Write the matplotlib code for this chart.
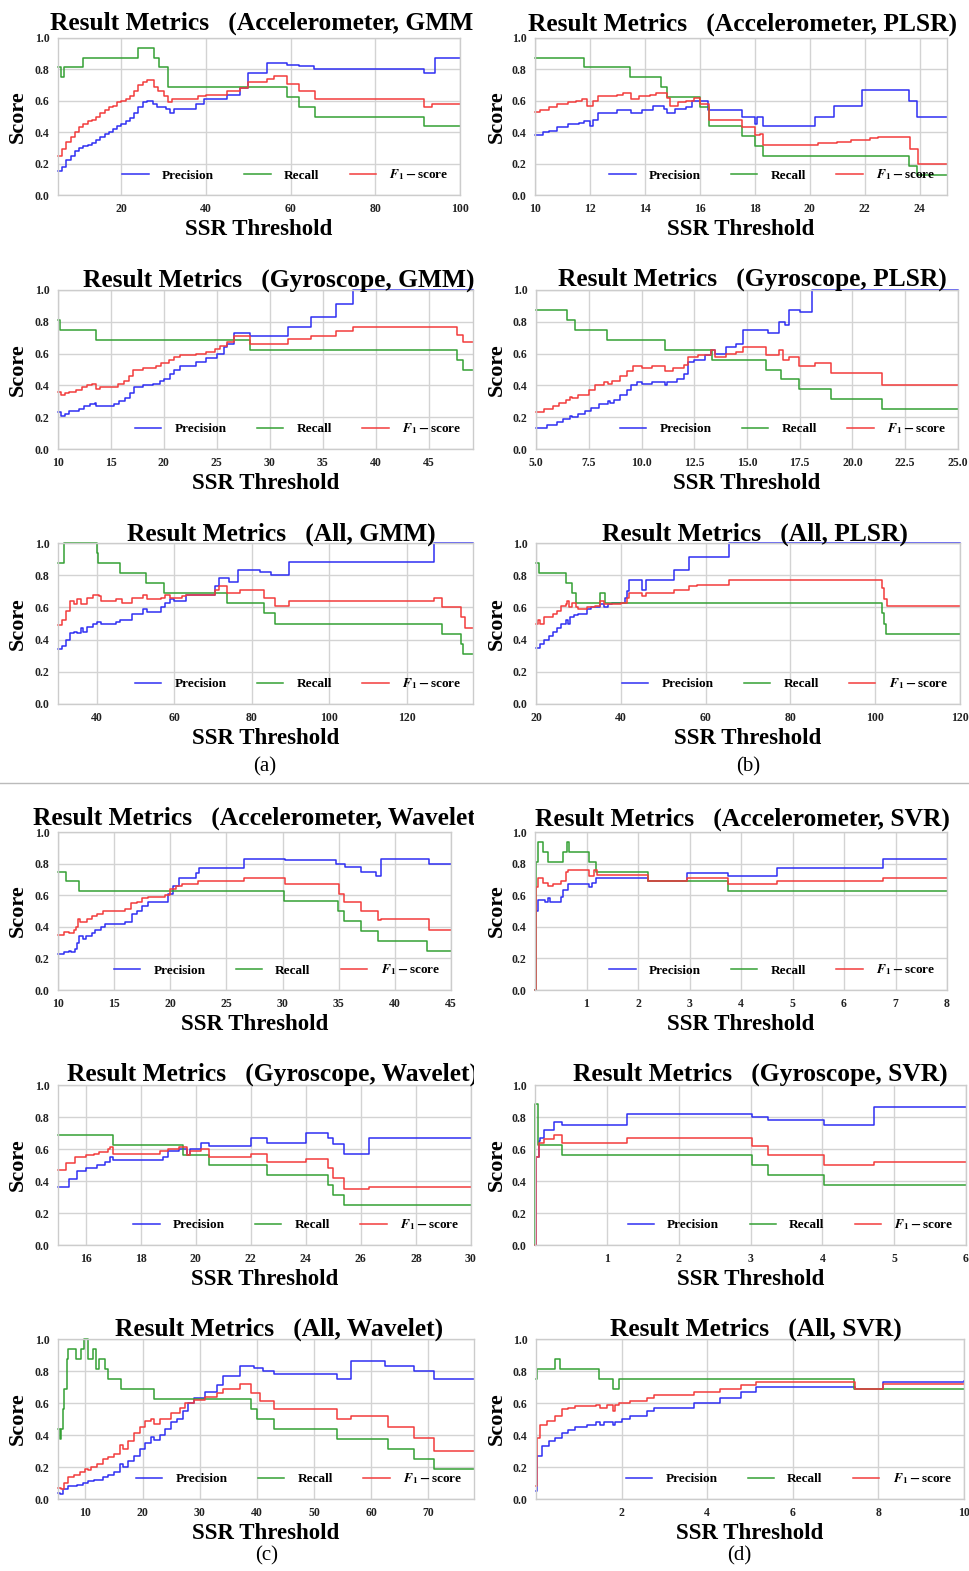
import matplotlib
matplotlib.use("Agg")
import matplotlib.pyplot as plt
from matplotlib.transforms import Bbox, TransformedBbox

plt.rcParams['font.family'] = ['Liberation Serif', 'DejaVu Serif']
plt.rcParams['font.weight'] = 'bold'
plt.rcParams['mathtext.fontset'] = 'stix'

# ---------------- data (step breakpoints) ----------------
# (a) Accelerometer, GMM
acc_gmm_px = [5, 6, 7, 8, 9, 10, 11, 12, 13, 14, 15, 16, 17, 18, 19, 20, 21, 22, 23, 24, 25, 26, 27.5, 28.5, 30.5, 31.5, 32.5, 37.5, 39.5, 45, 48, 50, 54.5, 59, 62, 65.5, 91.5, 94, 100]
acc_gmm_p = [0.15, 0.18, 0.22, 0.25, 0.28, 0.30, 0.31, 0.32, 0.33, 0.35, 0.37, 0.39, 0.40, 0.42, 0.44, 0.45, 0.47, 0.49, 0.52, 0.56, 0.59, 0.60, 0.58, 0.56, 0.55, 0.52, 0.55, 0.58, 0.61, 0.64, 0.68, 0.78, 0.84, 0.83, 0.82, 0.80, 0.78, 0.87, 0.87]
acc_gmm_rx = [5, 5.8, 6.3, 11, 24, 27.7, 28.8, 30.9, 59, 62, 65.7, 91.5, 100]
acc_gmm_r = [0.8125, 0.75, 0.8125, 0.875, 0.9375, 0.875, 0.8125, 0.6875, 0.625, 0.5625, 0.5, 0.4375, 0.4375]
acc_gmm_fx = [5, 6, 7, 8, 9, 10, 11, 12, 13, 14, 15, 16, 17, 18, 19, 20, 21, 22, 23, 24, 25, 26, 27.7, 28.7, 30, 31, 32, 38, 40, 45, 48, 50, 54.5, 56, 59, 62, 65.7, 91.5, 93.5, 100]
acc_gmm_f = [0.25, 0.29, 0.34, 0.37, 0.40, 0.43, 0.45, 0.47, 0.48, 0.50, 0.52, 0.54, 0.56, 0.57, 0.59, 0.60, 0.61, 0.63, 0.66, 0.70, 0.72, 0.73, 0.69, 0.66, 0.63, 0.59, 0.61, 0.63, 0.64, 0.66, 0.68, 0.72, 0.74, 0.76, 0.71, 0.66, 0.61, 0.56, 0.58, 0.58]

# (b) Accelerometer, PLSR
acc_plsr_px = [10, 10.3, 10.5, 10.8, 11.2, 11.6, 11.8, 12.0, 12.1, 12.3, 13.0, 13.5, 13.9, 14.3, 14.7, 14.8, 15.1, 15.5, 15.7, 16.3, 17.55, 18.0, 18.1, 18.3, 20.2, 20.9, 21.9, 23.6, 23.9, 25]
acc_plsr_p = [0.38, 0.40, 0.41, 0.43, 0.45, 0.46, 0.47, 0.44, 0.48, 0.52, 0.54, 0.52, 0.54, 0.57, 0.55, 0.52, 0.55, 0.56, 0.60, 0.54, 0.50, 0.45, 0.50, 0.44, 0.50, 0.57, 0.67, 0.60, 0.50, 0.50]
acc_plsr_rx = [10, 11.77, 13.45, 14.6, 14.8, 16.0, 16.35, 17.55, 18.0, 18.3, 23.6, 23.9, 25]
acc_plsr_r = [0.875, 0.8125, 0.75, 0.6875, 0.625, 0.5625, 0.4375, 0.375, 0.3125, 0.25, 0.1875, 0.125, 0.125]
acc_plsr_fx = [10, 10.2, 10.5, 10.8, 11.2, 11.5, 11.7, 11.9, 12.1, 12.3, 13.0, 13.2, 13.5, 13.8, 14.2, 14.4, 14.8, 14.9, 15.2, 15.5, 15.8, 16.0, 16.35, 17.55, 18.0, 18.2, 18.3, 20.3, 21.0, 21.5, 22.2, 22.5, 23.65, 23.95, 25]
acc_plsr_f = [0.53, 0.54, 0.56, 0.58, 0.59, 0.60, 0.61, 0.57, 0.60, 0.63, 0.64, 0.65, 0.61, 0.63, 0.64, 0.65, 0.62, 0.57, 0.59, 0.60, 0.62, 0.58, 0.48, 0.43, 0.38, 0.39, 0.32, 0.33, 0.34, 0.35, 0.36, 0.37, 0.29, 0.20, 0.20]

# (a) Gyroscope, GMM
gyr_gmm_px = [10, 10.3, 10.7, 11, 12, 12.5, 13, 13.5, 13.6, 15.3, 15.8, 16.3, 16.8, 17.2, 18, 19, 19.6, 20, 20.6, 21, 21.5, 23, 24, 25, 25.7, 26, 26.6, 28.1, 31.7, 33.9, 36.3, 37.9, 49.2]
gyr_gmm_p = [0.23, 0.21, 0.22, 0.24, 0.25, 0.27, 0.28, 0.29, 0.27, 0.28, 0.30, 0.32, 0.35, 0.39, 0.40, 0.41, 0.43, 0.44, 0.47, 0.50, 0.52, 0.55, 0.57, 0.60, 0.64, 0.66, 0.73, 0.71, 0.77, 0.83, 0.91, 1.0, 1.0]
gyr_gmm_rx = [10, 10.2, 13.6, 28.1, 47.7, 48.3, 49.2]
gyr_gmm_r = [0.8125, 0.75, 0.6875, 0.625, 0.5625, 0.5, 0.5]
gyr_gmm_fx = [10, 10.3, 10.7, 11, 11.7, 12.3, 12.7, 13.2, 13.6, 14, 15.2, 15.7, 16.2, 16.7, 17.1, 18, 19.3, 19.7, 20.5, 21, 21.5, 23, 24, 24.8, 25.3, 26, 26.6, 28.1, 31.7, 33.9, 36.3, 37.9, 47.7, 48.3, 49.2]
gyr_gmm_f = [0.36, 0.34, 0.35, 0.36, 0.37, 0.39, 0.40, 0.41, 0.38, 0.39, 0.39, 0.41, 0.43, 0.46, 0.50, 0.51, 0.52, 0.54, 0.56, 0.58, 0.59, 0.60, 0.61, 0.63, 0.65, 0.67, 0.71, 0.66, 0.69, 0.71, 0.74, 0.77, 0.72, 0.67, 0.67]

# (b) Gyroscope, PLSR
gyr_plsr_px = [5, 5.5, 6, 6.3, 6.6, 6.7, 7, 7.3, 7.6, 8, 8.4, 8.5, 8.7, 9, 9.3, 9.5, 9.8, 10, 10.5, 11.1, 11.2, 11.7, 12.0, 12.2, 12.5, 13.0, 13.3, 13.5, 14.0, 14.5, 14.8, 16.0, 16.5, 16.8, 17.0, 17.5, 18.1, 25]
gyr_plsr_p = [0.13, 0.15, 0.17, 0.19, 0.21, 0.20, 0.22, 0.24, 0.26, 0.28, 0.30, 0.29, 0.31, 0.34, 0.37, 0.40, 0.42, 0.41, 0.42, 0.40, 0.42, 0.44, 0.47, 0.55, 0.56, 0.59, 0.62, 0.60, 0.64, 0.66, 0.75, 0.73, 0.80, 0.78, 0.875, 0.86, 1.0, 1.0]
gyr_plsr_rx = [5, 6.45, 6.85, 8.35, 11.1, 13.35, 15.9, 16.6, 17.45, 19.0, 21.4, 25]
gyr_plsr_r = [0.875, 0.8125, 0.75, 0.6875, 0.625, 0.5625, 0.5, 0.4375, 0.375, 0.3125, 0.25, 0.25]
gyr_plsr_fx = [5, 5.4, 5.8, 6.1, 6.4, 6.6, 6.7, 7, 7.5, 7.8, 8.2, 8.4, 8.6, 9, 9.3, 9.6, 10, 10.5, 11.1, 11.5, 12, 12.2, 12.7, 13.3, 13.5, 14, 14.5, 14.8, 15.9, 16.5, 16.7, 17.0, 17.45, 18.2, 19.0, 21.4, 25]
gyr_plsr_f = [0.23, 0.25, 0.27, 0.29, 0.31, 0.33, 0.32, 0.34, 0.37, 0.40, 0.42, 0.41, 0.43, 0.46, 0.49, 0.52, 0.51, 0.52, 0.49, 0.51, 0.53, 0.58, 0.59, 0.62, 0.58, 0.60, 0.61, 0.64, 0.59, 0.62, 0.56, 0.58, 0.52, 0.54, 0.48, 0.40, 0.40]

# (a) All, GMM
all_gmm_px = [30, 31, 32, 33, 34, 35, 36, 36.5, 37.5, 39, 40, 41, 45, 46, 47, 49, 52, 53, 56.5, 57.5, 59, 60, 63, 70, 70.5, 71.5, 74, 76.5, 82, 85, 89.5, 127, 137]
all_gmm_p = [0.34, 0.36, 0.40, 0.44, 0.45, 0.44, 0.47, 0.45, 0.48, 0.50, 0.51, 0.50, 0.51, 0.52, 0.52, 0.56, 0.59, 0.57, 0.60, 0.63, 0.65, 0.64, 0.68, 0.68, 0.73, 0.78, 0.76, 0.83, 0.82, 0.80, 0.88, 1.0, 1.0]
all_gmm_rx = [30, 31.5, 40.1, 40.4, 46, 52.6, 57.3, 73.5, 83, 86, 129, 133.8, 134.5, 137]
all_gmm_r = [0.875, 1.0, 0.9375, 0.875, 0.8125, 0.75, 0.6875, 0.625, 0.5625, 0.5, 0.4375, 0.375, 0.3125, 0.3125]
all_gmm_fx = [30, 31, 32, 33, 34, 35, 36, 37.5, 39, 40.5, 41, 44, 45, 46.5, 49, 52, 53, 56.5, 57.5, 59, 62, 63, 70.5, 71.5, 73.5, 77, 83, 86, 89.5, 127, 129, 134, 135, 137]
all_gmm_f = [0.49, 0.52, 0.58, 0.64, 0.62, 0.65, 0.62, 0.66, 0.68, 0.67, 0.64, 0.64, 0.65, 0.63, 0.66, 0.68, 0.65, 0.66, 0.68, 0.66, 0.67, 0.68, 0.71, 0.73, 0.69, 0.71, 0.66, 0.61, 0.64, 0.66, 0.60, 0.54, 0.47, 0.47]

# (b) All, PLSR
all_plsr_px = [20, 21, 22, 23, 24, 25, 26, 27, 27.5, 28, 29, 30, 32, 33, 35, 36, 37, 38, 41, 41.5, 42, 45, 46, 52.5, 56, 65.5, 120]
all_plsr_p = [0.35, 0.37, 0.40, 0.42, 0.45, 0.47, 0.50, 0.52, 0.50, 0.54, 0.55, 0.56, 0.59, 0.60, 0.62, 0.60, 0.62, 0.63, 0.66, 0.70, 0.77, 0.71, 0.77, 0.83, 0.91, 1.0, 1.0]
all_plsr_rx = [20, 20.8, 27, 28.5, 29.5, 35.2, 36.3, 101.5, 102, 102.5, 120]
all_plsr_r = [0.875, 0.8125, 0.75, 0.6875, 0.625, 0.6875, 0.625, 0.5625, 0.5, 0.4375, 0.4375]
all_plsr_fx = [20, 20.5, 21, 22, 24, 25, 26, 27, 27.3, 27.8, 28.5, 29.5, 30, 32, 34, 35, 36, 38, 40, 41.5, 42, 45, 46, 52.5, 56, 58, 65.5, 101.5, 102, 102.7, 120]
all_plsr_f = [0.50, 0.52, 0.50, 0.54, 0.56, 0.58, 0.61, 0.62, 0.64, 0.60, 0.63, 0.60, 0.59, 0.60, 0.61, 0.64, 0.62, 0.62, 0.63, 0.66, 0.69, 0.67, 0.69, 0.71, 0.73, 0.74, 0.77, 0.72, 0.65, 0.61, 0.61]

# (c) Accelerometer, Wavelet
acc_wav_px = [10, 10.5, 11, 11.2, 11.5, 11.7, 11.9, 12.2, 12.5, 13, 13.3, 13.8, 14.2, 16, 16.6, 17, 17.5, 18, 19.8, 20.2, 20.8, 22.3, 22.6, 26.6, 30.2, 34.8, 35.6, 37, 38.3, 38.8, 43, 45]
acc_wav_p = [0.23, 0.24, 0.25, 0.24, 0.26, 0.30, 0.34, 0.32, 0.34, 0.36, 0.38, 0.40, 0.42, 0.43, 0.48, 0.50, 0.53, 0.56, 0.61, 0.66, 0.71, 0.74, 0.77, 0.83, 0.82, 0.80, 0.78, 0.75, 0.72, 0.83, 0.80, 0.80]
acc_wav_rx = [10, 10.7, 11.9, 30.1, 34.9, 35.5, 37, 38.5, 42.9, 45]
acc_wav_r = [0.75, 0.6875, 0.625, 0.5625, 0.5, 0.4375, 0.375, 0.3125, 0.25, 0.25]
acc_wav_fx = [10, 10.5, 11, 11.4, 11.6, 11.8, 12, 12.6, 13, 13.5, 14, 16, 16.5, 17, 17.5, 18, 19.5, 20, 20.5, 21, 22.5, 26.6, 30.2, 35, 35.5, 37, 38.5, 38.8, 43, 45]
acc_wav_f = [0.35, 0.37, 0.36, 0.38, 0.40, 0.45, 0.43, 0.45, 0.47, 0.48, 0.50, 0.51, 0.55, 0.56, 0.58, 0.59, 0.60, 0.64, 0.66, 0.67, 0.69, 0.71, 0.67, 0.61, 0.56, 0.50, 0.44, 0.45, 0.38, 0.38]

# (d) Accelerometer, SVR
acc_svr_px = [0, 0.01, 0.05, 0.2, 0.25, 0.3, 0.5, 0.55, 0.65, 1.05, 1.1, 1.18, 2.2, 2.95, 3.75, 4.7, 6.75, 8]
acc_svr_p = [0.0, 0.50, 0.57, 0.56, 0.58, 0.56, 0.59, 0.63, 0.67, 0.65, 0.68, 0.71, 0.69, 0.74, 0.72, 0.77, 0.83, 0.83]
acc_svr_rx = [0, 0.01, 0.05, 0.15, 0.25, 0.55, 0.63, 0.66, 1.05, 1.18, 2.2, 3.75, 8]
acc_svr_r = [0.0, 0.8125, 0.9375, 0.875, 0.8125, 0.875, 0.9375, 0.875, 0.8125, 0.75, 0.6875, 0.625, 0.625]
acc_svr_fx = [0, 0.01, 0.05, 0.15, 0.25, 0.35, 0.5, 0.6, 0.65, 1.05, 1.15, 1.2, 2.2, 2.95, 3.75, 4.7, 6.75, 8]
acc_svr_f = [0.0, 0.65, 0.71, 0.68, 0.66, 0.67, 0.69, 0.75, 0.76, 0.72, 0.76, 0.73, 0.69, 0.71, 0.67, 0.69, 0.71, 0.71]

# (c) Gyroscope, Wavelet
gyr_wav_px = [15, 15.4, 15.7, 16, 16.4, 16.7, 16.9, 17, 18.8, 19, 19.4, 19.7, 19.8, 20.2, 20.5, 22, 22.6, 24, 24.8, 25, 25.4, 26.3, 30]
gyr_wav_p = [0.36, 0.41, 0.46, 0.48, 0.50, 0.52, 0.55, 0.53, 0.55, 0.59, 0.60, 0.56, 0.60, 0.64, 0.62, 0.67, 0.64, 0.70, 0.67, 0.63, 0.57, 0.67, 0.67]
gyr_wav_rx = [15, 17, 19.55, 20.5, 22.6, 24.8, 25.0, 25.4, 30]
gyr_wav_r = [0.6875, 0.625, 0.5625, 0.5, 0.4375, 0.375, 0.3125, 0.25, 0.25]
gyr_wav_fx = [15, 15.3, 15.6, 16, 16.3, 16.5, 16.8, 16.9, 17, 18.7, 19, 19.4, 19.7, 19.8, 20.2, 20.5, 22, 22.6, 24, 24.8, 25, 25.4, 26.3, 30]
gyr_wav_f = [0.47, 0.51, 0.55, 0.56, 0.57, 0.58, 0.60, 0.61, 0.57, 0.59, 0.60, 0.61, 0.56, 0.59, 0.60, 0.55, 0.57, 0.52, 0.54, 0.48, 0.42, 0.35, 0.36, 0.36]

# (d) Gyroscope, SVR
gyr_svr_px = [0, 0.01, 0.05, 0.07, 0.12, 0.27, 0.38, 1.28, 3.02, 3.25, 4.03, 4.72, 6]
gyr_svr_p = [0.0, 0.55, 0.65, 0.67, 0.72, 0.77, 0.75, 0.82, 0.80, 0.78, 0.75, 0.86, 0.86]
gyr_svr_rx = [0, 0.005, 0.04, 0.37, 3.02, 3.25, 4.03, 6]
gyr_svr_r = [0.0, 0.88, 0.625, 0.5625, 0.5, 0.4375, 0.375, 0.375]
gyr_svr_fx = [0, 0.01, 0.05, 0.12, 0.27, 0.38, 1.28, 3.02, 3.25, 4.03, 4.72, 6]
gyr_svr_f = [0.0, 0.55, 0.64, 0.66, 0.69, 0.64, 0.67, 0.62, 0.56, 0.50, 0.52, 0.52]

# (c) All, Wavelet
all_wav_px = [5.2, 5.5, 6, 7, 8.5, 9.5, 10.5, 11.5, 13, 14, 15, 16, 16.5, 17.5, 18.5, 19.5, 20.5, 21.5, 22, 23, 24, 25, 26, 27, 28, 29, 31, 33, 34, 37, 39.5, 41, 43, 54, 56.5, 62.5, 67.5, 71, 78]
all_wav_p = [0.04, 0.03, 0.06, 0.08, 0.09, 0.10, 0.11, 0.12, 0.14, 0.15, 0.17, 0.22, 0.20, 0.24, 0.27, 0.31, 0.35, 0.39, 0.37, 0.40, 0.44, 0.48, 0.50, 0.55, 0.60, 0.63, 0.67, 0.71, 0.77, 0.83, 0.82, 0.80, 0.78, 0.75, 0.86, 0.83, 0.80, 0.75, 0.75]
all_wav_rx = [5.2, 5.5, 5.8, 6, 6.3, 6.7, 7, 8.3, 9.2, 9.8, 10.5, 11.3, 11.8, 12.3, 13.5, 14, 16.2, 22, 38.9, 40, 43, 54, 63, 67.5, 71, 78]
all_wav_r = [0.4375, 0.375, 0.4375, 0.5625, 0.6875, 0.875, 0.9375, 0.875, 0.9375, 1.0, 0.875, 0.9375, 0.8125, 0.875, 0.8125, 0.75, 0.6875, 0.625, 0.5625, 0.5, 0.4375, 0.375, 0.3125, 0.25, 0.1875, 0.1875]
all_wav_fx = [5.2, 5.8, 6.3, 7, 8, 9, 10, 10.5, 11, 12, 13, 14, 15, 16, 16.5, 17.5, 18.5, 19.5, 20.5, 21.5, 22, 23, 25, 26.5, 27.5, 29, 31, 33, 34, 37, 39, 40.5, 43, 54, 56.5, 63, 67.5, 71, 78]
all_wav_f = [0.07, 0.06, 0.10, 0.14, 0.15, 0.17, 0.19, 0.18, 0.20, 0.22, 0.25, 0.26, 0.28, 0.34, 0.31, 0.36, 0.41, 0.45, 0.49, 0.50, 0.47, 0.50, 0.54, 0.57, 0.60, 0.62, 0.64, 0.66, 0.69, 0.72, 0.66, 0.61, 0.56, 0.50, 0.52, 0.45, 0.38, 0.30, 0.30]

# (d) All, SVR
all_svr_px = [0, 0.03, 0.15, 0.3, 0.45, 0.6, 0.75, 0.9, 1.2, 1.4, 1.5, 1.6, 1.8, 1.85, 2.0, 2.2, 2.6, 2.75, 3.7, 4.3, 4.8, 5.15, 7.45, 8.1, 10]
all_svr_p = [0.05, 0.27, 0.33, 0.36, 0.38, 0.41, 0.43, 0.45, 0.46, 0.48, 0.46, 0.48, 0.46, 0.48, 0.50, 0.52, 0.55, 0.57, 0.60, 0.63, 0.67, 0.70, 0.69, 0.73, 0.74]
all_svr_rx = [0, 0.03, 0.45, 0.55, 1.48, 1.81, 1.93, 7.43, 10]
all_svr_r = [0.75, 0.8125, 0.875, 0.8125, 0.75, 0.6875, 0.75, 0.6875, 0.6875]
all_svr_fx = [0, 0.03, 0.1, 0.25, 0.45, 0.6, 0.75, 0.9, 1.4, 1.5, 1.65, 1.8, 1.85, 1.95, 2.2, 2.6, 2.75, 3.7, 4.3, 4.8, 5.15, 7.45, 8.1, 10]
all_svr_f = [0.08, 0.38, 0.46, 0.49, 0.52, 0.56, 0.57, 0.58, 0.59, 0.57, 0.59, 0.55, 0.59, 0.60, 0.61, 0.63, 0.65, 0.67, 0.69, 0.71, 0.73, 0.69, 0.72, 0.72]

titles = ['Result Metrics   (Accelerometer, GMM)', 'Result Metrics   (Accelerometer, PLSR)',
          'Result Metrics   (Gyroscope, GMM)', 'Result Metrics   (Gyroscope, PLSR)',
          'Result Metrics   (All, GMM)', 'Result Metrics   (All, PLSR)',
          'Result Metrics   (Accelerometer, Wavelet)', 'Result Metrics   (Accelerometer, SVR)',
          'Result Metrics   (Gyroscope, Wavelet)', 'Result Metrics   (Gyroscope, SVR)',
          'Result Metrics   (All, Wavelet)', 'Result Metrics   (All, SVR)']
xticks = [[20, 40, 60, 80, 100], [10, 12, 14, 16, 18, 20, 22, 24],
          [10, 15, 20, 25, 30, 35, 40, 45], [5, 7.5, 10, 12.5, 15, 17.5, 20, 22.5, 25],
          [40, 60, 80, 100, 120], [20, 40, 60, 80, 100, 120],
          [10, 15, 20, 25, 30, 35, 40, 45], [1, 2, 3, 4, 5, 6, 7, 8],
          [16, 18, 20, 22, 24, 26, 28, 30], [1, 2, 3, 4, 5, 6],
          [10, 20, 30, 40, 50, 60, 70], [2, 4, 6, 8, 10]]
xlims = [(5, 100), (10, 25), (10, 49.2), (5, 25), (30, 137), (20, 120),
         (10, 45), (0, 8), (15, 30), (0, 6), (5.2, 78), (0, 10)]
series = [(acc_gmm_px, acc_gmm_p, acc_gmm_rx, acc_gmm_r, acc_gmm_fx, acc_gmm_f),
          (acc_plsr_px, acc_plsr_p, acc_plsr_rx, acc_plsr_r, acc_plsr_fx, acc_plsr_f),
          (gyr_gmm_px, gyr_gmm_p, gyr_gmm_rx, gyr_gmm_r, gyr_gmm_fx, gyr_gmm_f),
          (gyr_plsr_px, gyr_plsr_p, gyr_plsr_rx, gyr_plsr_r, gyr_plsr_fx, gyr_plsr_f),
          (all_gmm_px, all_gmm_p, all_gmm_rx, all_gmm_r, all_gmm_fx, all_gmm_f),
          (all_plsr_px, all_plsr_p, all_plsr_rx, all_plsr_r, all_plsr_fx, all_plsr_f),
          (acc_wav_px, acc_wav_p, acc_wav_rx, acc_wav_r, acc_wav_fx, acc_wav_f),
          (acc_svr_px, acc_svr_p, acc_svr_rx, acc_svr_r, acc_svr_fx, acc_svr_f),
          (gyr_wav_px, gyr_wav_p, gyr_wav_rx, gyr_wav_r, gyr_wav_fx, gyr_wav_f),
          (gyr_svr_px, gyr_svr_p, gyr_svr_rx, gyr_svr_r, gyr_svr_fx, gyr_svr_f),
          (all_wav_px, all_wav_p, all_wav_rx, all_wav_r, all_wav_fx, all_wav_f),
          (all_svr_px, all_svr_p, all_svr_rx, all_svr_r, all_svr_fx, all_svr_f)]
labels = ['Precision', 'Recall', r'$F_1-$score']
sub_labels = ['(a)', '(b)', '(c)', '(d)']

# ---------------- layout (pixels) ----------------
W, H = 970, 1571
boxes = [(58, 460, 38, 195), (535, 947, 38, 195),
         (58, 473, 290, 449), (536, 958, 290, 449),
         (58, 473, 543, 704), (536, 960, 543, 704),
         (58, 451, 832, 990), (535, 947, 832, 990),
         (58, 471, 1085, 1245), (535, 966, 1085, 1245),
         (58, 474, 1339, 1499), (536, 964, 1339, 1499)]
title_pos = [(50, 30), (528, 31), (83, 287), (558, 286), (127, 541), (602, 541),
             (33, 825), (535, 826), (67, 1081), (573, 1081), (115, 1336), (610, 1336)]
sub_pos = [(265, 767), (748, 767), (267, 1556), (739, 1556)]
colors = ['#2f2ff2', '#34a034', '#f23c3c']

fig = plt.figure(figsize=(W / 100, H / 100), dpi=100)
fig.patch.set_facecolor('white')
left_clip = TransformedBbox(Bbox.from_extents(0, 0, 474 / W, 1), fig.transFigure)

for i, (l, r, t, b) in enumerate(boxes):
    ax = fig.add_axes([l / W, 1 - b / H, (r - l) / W, (b - t) / H])
    px, p, rx, rc, fx, f = series[i]
    for (x, y), c, lab in zip(((px, p), (rx, rc), (fx, f)), colors, labels):
        ax.plot(x, y, drawstyle='steps-post', color=c, lw=1.1, label=lab, clip_on=False)
    ax.set_xlim(*xlims[i])
    ax.set_ylim(0, 1.0)
    ax.set_yticks([0, 0.2, 0.4, 0.6, 0.8, 1.0])
    ax.set_yticklabels(['%.1f' % v for v in [0, 0.2, 0.4, 0.6, 0.8, 1.0]])
    ax.set_xticks(xticks[i])
    fmt = '%.1f' if i == 3 else '%g'
    ax.set_xticklabels([fmt % v for v in xticks[i]])
    ax.tick_params(length=0, pad=6, labelsize=8.5, labelcolor='#222222')
    for lbl in ax.get_xticklabels() + ax.get_yticklabels():
        lbl.set_fontweight('bold')
    ax.grid(True, color='#d3d3d3', lw=1.0)
    for sp in ax.spines.values():
        sp.set_color('#cccccc')
        sp.set_linewidth(1.0)
    ax.legend(loc='center right', bbox_to_anchor=(0.972, 0.127), ncol=3, frameon=False,
              fontsize=9.5, handlelength=2.0, handletextpad=1.0, columnspacing=2.3,
              borderaxespad=0, borderpad=0)

    tx, ty = title_pos[i]
    tt = fig.text(tx / W, 1 - ty / H, titles[i], ha='left', va='baseline',
                  fontsize=18.4, fontweight='bold')
    if i % 2 == 0:
        tt.set_clip_on(True)
        tt.set_clip_box(left_clip)
    fig.text((l + r) / 2 / W, 1 - (b + 40) / H, 'SSR Threshold', ha='center', va='baseline',
             fontsize=16.5, fontweight='bold')
    sx = 18 if i % 2 == 0 else 497
    fig.text(sx / W, 1 - (t + b) / 2 / H, 'Score', ha='center', va='center', rotation=90,
             fontsize=16, fontweight='bold')

for (x, y), s in zip(sub_pos, sub_labels):
    fig.text(x / W, 1 - y / H, s, ha='center', va='center', fontsize=15, fontweight='normal')

fig.add_artist(plt.Line2D([0, 1], [1 - 783 / H, 1 - 783 / H], color='#bbbbbb', lw=1.0,
                          transform=fig.transFigure))

fig.savefig('out.png', dpi=100)
